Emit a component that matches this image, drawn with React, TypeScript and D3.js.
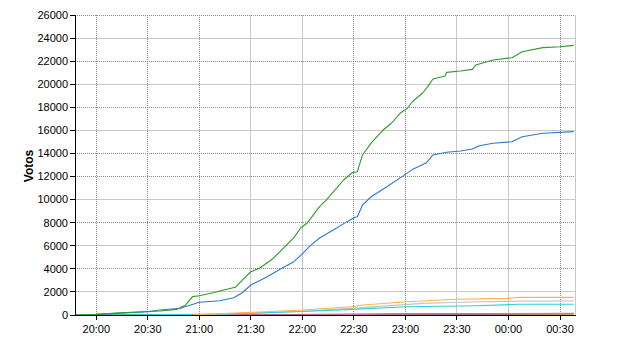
import React from "react";
import * as d3 from "d3";

// ---- data ----
const greenTimes = ["19:48","20:00","20:14","20:30","20:37","20:47","20:52","20:56","21:00","21:08","21:16","21:21","21:25","21:30","21:35","21:43","21:47","21:55","21:59","22:03","22:10","22:14","22:24","22:29","22:32","22:35","22:40","22:47","22:52","22:57","23:01","23:04","23:10","23:13","23:16","23:23","23:24","23:32","23:39","23:41","23:51","00:02","00:08","00:20","00:30","00:38"];
const greenValues = [0,50,180,300,350,490,870,1590,1670,1930,2230,2400,3030,3750,4050,4900,5500,6700,7540,8000,9390,9970,11700,12330,12420,13870,14900,16030,16640,17500,17900,18480,19240,19790,20450,20710,21030,21150,21290,21670,22100,22300,22820,23170,23250,23370];

const blueTimes = ["19:48","20:00","20:30","20:37","20:49","20:55","21:00","21:12","21:20","21:25","21:30","21:39","21:47","21:55","22:00","22:04","22:10","22:18","22:26","22:31","22:32","22:35","22:40","22:49","22:58","23:04","23:12","23:16","23:24","23:32","23:39","23:43","23:51","00:02","00:08","00:20","00:38"];
const blueValues = [0,50,280,430,580,870,1100,1240,1500,1930,2600,3270,3960,4620,5300,5920,6670,7370,8090,8490,8520,9530,10250,11090,11990,12600,13170,13870,14100,14210,14390,14670,14880,15020,15450,15750,15890];

const orangeTimes = ["20:55","21:30","22:00","22:29","22:35","23:01","23:30","23:59","00:06","00:38"];
const orangeValues = [0,230,430,720,870,1150,1360,1440,1530,1530];

const grayTimes = ["21:00","21:30","22:00","22:30","23:00","23:10","23:43","00:10","00:38"];
const grayValues = [0,150,330,600,900,1010,1150,1200,1210];

const cyanTimes = ["20:00","21:00","21:30","22:00","22:29","23:01","23:41","00:06","00:38"];
const cyanValues = [0,50,150,300,490,720,800,930,930];

const darkRedTimes = ["20:00","21:00","22:00","23:00","00:38"];
const darkRedValues = [0,10,30,80,110];

const pinkTimes = ["21:00","22:00","22:30","23:30","00:38"];
const pinkValues = [0,20,40,100,140];

const limeTimes = ["20:50","21:30","22:30","00:38"];
const limeValues = [0,40,60,70];

const yTicks = [0,2000,4000,6000,8000,10000,12000,14000,16000,18000,20000,22000,24000,26000];
const xTickLabels = ["20:00","20:30","21:00","21:30","22:00","22:30","23:00","23:30","00:00","00:30"];
const yDotted = [26000,22000,18000,14000,12000,8000,4000];
const xDotted = ["20:00","20:30","21:00","22:30","23:00","00:30"];

// ---- helpers ----
function toDate(s: string): Date {
  const [h, m] = s.split(":").map(Number);
  const day = h < 12 ? 2 : 1;
  return new Date(2000, 0, day, h, m, 0);
}

const series = [
  { t: limeTimes, v: limeValues, color: "#b5d65a" },
  { t: darkRedTimes, v: darkRedValues, color: "#7a1030" },
  { t: pinkTimes, v: pinkValues, color: "#c87aa8" },
  { t: grayTimes, v: grayValues, color: "#c4c4c4" },
  { t: cyanTimes, v: cyanValues, color: "#2fd0d8" },
  { t: orangeTimes, v: orangeValues, color: "#ffb44a" },
  { t: blueTimes, v: blueValues, color: "#2f78cc" },
  { t: greenTimes, v: greenValues, color: "#2f9a2f" },
];

export default function App() {
  const W = 640, H = 350;
  const left = 75, right = 575, top = 15, bottom = 315;
  const x = d3.scaleTime()
    .domain([new Date(2000, 0, 1, 19, 47, 36), new Date(2000, 0, 2, 0, 38, 44)])
    .range([left, right]);
  const y = d3.scaleLinear().domain([0, 26000]).range([bottom, top]);
  const px = (v: number) => Math.floor(v) + 0.5;
  const line = d3.line<[Date, number]>()
    .x((d) => x(d[0]))
    .y((d) => y(d[1]))
    .curve(d3.curveLinear);
  const font = "'Liberation Sans', Arial, sans-serif";

  return (
    <svg width={W} height={H} style={{ position: "absolute", left: 0, top: 0, background: "#fff" }}>
      <rect x={0} y={0} width={W} height={H} fill="#fff" />
      {/* horizontal grid */}
      {yTicks.filter((t) => t > 0).map((t) => {
        const dotted = yDotted.includes(t);
        return (
          <line key={"hy" + t} x1={left} x2={right + 1} y1={px(y(t))} y2={px(y(t))}
            stroke={dotted ? "#8a8a8a" : "#c8c8c8"} strokeWidth={1}
            strokeDasharray={dotted ? "1,1" : undefined} />
        );
      })}
      {/* vertical grid */}
      {xTickLabels.map((s) => {
        const dotted = xDotted.includes(s);
        const xv = px(x(toDate(s)));
        return (
          <line key={"vx" + s} x1={xv} x2={xv} y1={top} y2={bottom}
            stroke={dotted ? "#8a8a8a" : "#c8c8c8"} strokeWidth={1}
            strokeDasharray={dotted ? "1,1" : undefined} />
        );
      })}
      <line x1={px(right)} x2={px(right)} y1={top} y2={bottom} stroke="#c8c8c8" />
      {/* series */}
      {series.map((s, i) => (
        <path key={i} d={line(s.t.map((t, j) => [toDate(t), s.v[j]] as [Date, number])) || ""}
          fill="none" stroke={s.color} strokeWidth={1.1} strokeLinejoin="round" />
      ))}
      {/* axes */}
      <line x1={px(left)} x2={px(left)} y1={top} y2={bottom + 1} stroke="#000" />
      <line x1={left} x2={right + 1} y1={px(bottom)} y2={px(bottom)} stroke="#000" />
      {yTicks.map((t) => (
        <g key={"yt" + t}>
          <line x1={left - 5} x2={left} y1={px(y(t))} y2={px(y(t))} stroke="#000" />
          <text x={68} y={y(t)} dy="0.35em" textAnchor="end" fontFamily={font} fontSize={11} fill="#000">{t}</text>
        </g>
      ))}
      {xTickLabels.map((s) => {
        const xv = x(toDate(s));
        return (
          <g key={"xt" + s}>
            <line x1={px(xv)} x2={px(xv)} y1={bottom} y2={bottom + 5} stroke="#000" />
            <text x={xv} y={333} textAnchor="middle" fontFamily={font} fontSize={11} fill="#000">{s}</text>
          </g>
        );
      })}
      <text transform="translate(33,166) rotate(-90)" textAnchor="middle" fontFamily={font}
        fontSize={12} fontWeight="bold" fill="#000">Votos</text>
    </svg>
  );
}
